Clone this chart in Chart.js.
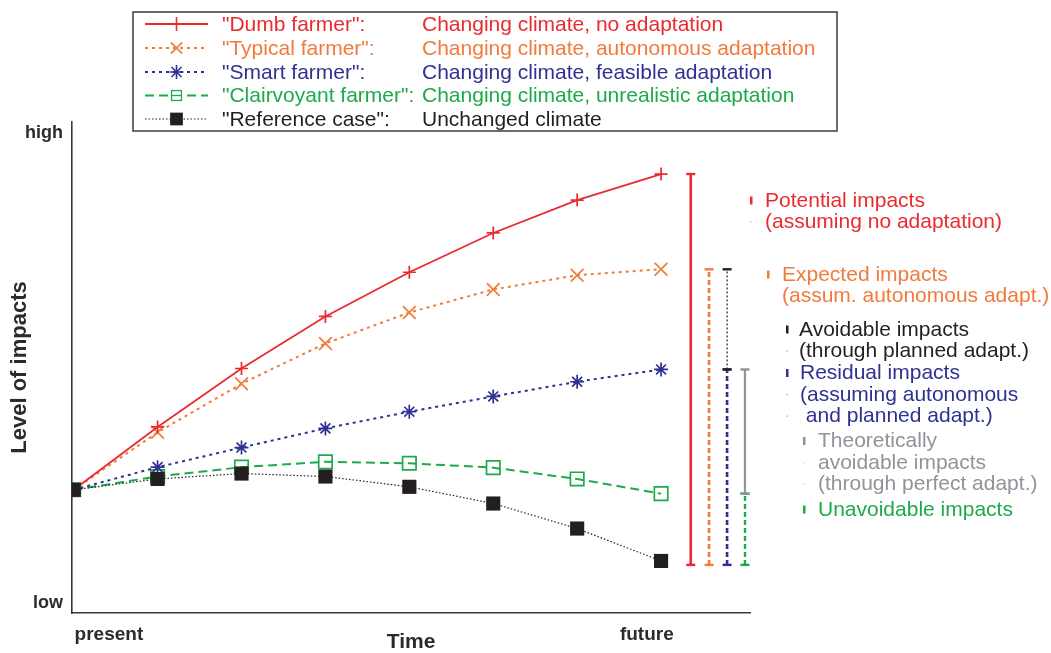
<!DOCTYPE html>
<html>
<head>
<meta charset="utf-8">
<script src="https://cdn.jsdelivr.net/npm/chart.js@4.4.1/dist/chart.umd.min.js"></script>
<style>
  html, body { margin: 0; padding: 0; background: #ffffff; }
  #wrap { position: relative; width: 1051px; height: 653px; }
</style>
</head>
<body>
<div id="wrap"><canvas id="c" width="1051" height="653"></canvas></div>
<script>
// ---------------- DATA ----------------
const timeSteps = [0, 1, 2, 3, 4, 5, 6, 7];
const dumbFarmer        = [25.1, 37.9, 49.8, 60.4, 69.4, 77.4, 84.1, 89.4];
const typicalFarmer     = [25.1, 36.8, 46.7, 54.9, 61.2, 65.9, 68.8, 70.0];
const smartFarmer       = [25.1, 29.7, 33.7, 37.6, 41.0, 44.1, 47.1, 49.6];
const clairvoyantFarmer = [25.1, 27.8, 29.7, 30.8, 30.5, 29.6, 27.3, 24.3];
const referenceCase     = [25.1, 27.3, 28.4, 27.8, 25.7, 22.3, 17.2, 10.6];

const seriesNames = ['"Dumb farmer":', '"Typical farmer":', '"Smart farmer":', '"Clairvoyant farmer":', '"Reference case":'];
const seriesDescriptions = ['Changing climate, no adaptation', 'Changing climate, autonomous adaptation',
  'Changing climate, feasible adaptation', 'Changing climate, unrealistic adaptation', 'Unchanged climate'];

// impact ranges shown as brackets at the right (low value, high value)
const bracketBase = 9.8;
const potentialRange   = [bracketBase, 89.4];
const expectedRange    = [bracketBase, 70.0];
const avoidableRange   = [49.6, 70.0];
const residualRange    = [bracketBase, 49.6];
const theoreticalRange = [24.3, 49.6];
const unavoidableRange = [bracketBase, 24.3];
const bracketX = [7.354, 7.572, 7.787, 7.787, 8.0, 8.0];

const yTickValues = [2.0, 97.8];
const yTickLabels = ['low', 'high'];
const xTickValues = [0.42, 6.83];
const xTickLabels = ['present', 'future'];

const annotationTexts = [
  ['Potential impacts', '(assuming no adaptation)'],
  ['Expected impacts', '(assum. autonomous adapt.)'],
  ['Avoidable impacts', '(through planned adapt.)'],
  ['Residual impacts', '(assuming autonomous', ' and planned adapt.)'],
  ['Theoretically', 'avoidable impacts', '(through perfect adapt.)'],
  ['Unavoidable impacts']
];

// ---------------- STYLE ----------------
const RED = '#ea2a2f', ORANGE = '#f27a3c', BLUE = '#2f3192', GREEN = '#1daa4a', BLACK = '#231f20', GRAY = '#8f949a';
const FONT = "'Liberation Sans', Arial, Helvetica, sans-serif";

const seriesStyles = [
  { color: RED,    dash: [],      width: 1.8, pointStyle: 'cross',    radius: 6.5, fill: false },
  { color: ORANGE, dash: [3, 4],  width: 2,   pointStyle: 'crossRot', radius: 9,   fill: false },
  { color: BLUE,   dash: [3, 4],  width: 2,   pointStyle: 'star',     radius: 7,   fill: false },
  { color: GREEN,  dash: [9, 5],  width: 2,   pointStyle: 'rect',     radius: 9.5, fill: false },
  { color: BLACK,  dash: [1.5, 2],width: 1.2, pointStyle: 'rect',     radius: 10,  fill: true }
];
const seriesValues = [dumbFarmer, typicalFarmer, smartFarmer, clairvoyantFarmer, referenceCase];

const datasets = seriesValues.map((vals, i) => {
  const s = seriesStyles[i];
  return {
    label: seriesNames[i],
    data: timeSteps.map((t, k) => ({ x: t, y: vals[k] })),
    borderColor: s.color,
    borderWidth: s.width,
    borderDash: s.dash,
    pointStyle: s.pointStyle,
    pointRadius: s.radius,
    pointHoverRadius: s.radius,
    pointBorderColor: s.color,
    pointBackgroundColor: s.fill ? s.color : 'rgba(0,0,0,0)',
    pointBorderWidth: s.fill ? 0 : 1.7,
    tension: 0,
    order: i === 4 ? 0 : i + 1
  };
});

const bracketDefs = [
  { range: potentialRange,   color: RED,    dash: [],     width: 2.6 },
  { range: expectedRange,    color: ORANGE, dash: [5, 3], width: 2.6 },
  { range: avoidableRange,   color: BLACK,  dash: [2, 2], width: 1.2 },
  { range: residualRange,    color: BLUE,   dash: [5, 3], width: 2.6 },
  { range: theoreticalRange, color: GRAY,   dash: [],     width: 2.2 },
  { range: unavoidableRange, color: GREEN,  dash: [5, 3], width: 2.4 }
];
bracketDefs.forEach((b, i) => {
  datasets.push({
    label: 'bracket' + i,
    data: [{ x: bracketX[i], y: b.range[0] }, { x: bracketX[i], y: b.range[1] }],
    borderColor: b.color,
    borderWidth: b.width,
    borderDash: b.dash,
    pointStyle: 'line',
    pointRadius: 4.5,
    pointHoverRadius: 4.5,
    pointBorderColor: b.color,
    pointBorderWidth: 2.4,
    order: 10
  });
});

// ---------------- PLUGINS ----------------
function drawMarker(ctx, style, x, y, r) {
  ctx.save();
  ctx.strokeStyle = style.color;
  ctx.fillStyle = style.color;
  ctx.lineWidth = 1.6;
  ctx.setLineDash([]);
  ctx.beginPath();
  if (style.pointStyle === 'cross') {
    ctx.moveTo(x - r, y); ctx.lineTo(x + r, y); ctx.moveTo(x, y - r); ctx.lineTo(x, y + r); ctx.stroke();
  } else if (style.pointStyle === 'crossRot') {
    const d = r * Math.SQRT1_2;
    ctx.moveTo(x - d, y - d); ctx.lineTo(x + d, y + d); ctx.moveTo(x - d, y + d); ctx.lineTo(x + d, y - d); ctx.stroke();
  } else if (style.pointStyle === 'star') {
    const d = r * Math.SQRT1_2;
    ctx.moveTo(x - r, y); ctx.lineTo(x + r, y); ctx.moveTo(x, y - r); ctx.lineTo(x, y + r);
    ctx.moveTo(x - d, y - d); ctx.lineTo(x + d, y + d); ctx.moveTo(x - d, y + d); ctx.lineTo(x + d, y - d); ctx.stroke();
  } else if (style.pointStyle === 'rect') {
    const d = r * Math.SQRT1_2;
    if (style.fill) { ctx.fillRect(x - d, y - d, 2 * d, 2 * d); }
    else { ctx.lineWidth = 1.3; ctx.strokeRect(x - d, y - d, 2 * d, 2 * d); ctx.beginPath(); ctx.moveTo(x - d, y); ctx.lineTo(x + d, y); ctx.stroke(); }
  }
  ctx.restore();
}

const legendBox = { left: 133, top: 12, right: 837, bottom: 131, rowY: [24, 48, 72, 95.5, 119], lineX0: 145, lineX1: 208, nameX: 222, descX: 422 };
const legendMarkerR = [7, 8, 7, 7, 9];

const legendPlugin = {
  id: 'customLegend',
  afterDraw(chart) {
    const ctx = chart.ctx;
    const L = legendBox;
    ctx.save();
    ctx.fillStyle = '#ffffff';
    ctx.fillRect(L.left, L.top, L.right - L.left, L.bottom - L.top);
    ctx.strokeStyle = '#3c3c3c';
    ctx.lineWidth = 1.5;
    ctx.strokeRect(L.left, L.top, L.right - L.left, L.bottom - L.top);
    seriesNames.forEach((name, i) => {
      const s = seriesStyles[i];
      const y = L.rowY[i];
      ctx.save();
      ctx.strokeStyle = s.color;
      ctx.lineWidth = s.width;
      ctx.setLineDash(s.dash);
      ctx.beginPath(); ctx.moveTo(L.lineX0, y); ctx.lineTo(L.lineX1, y); ctx.stroke();
      ctx.restore();
      const mx = (L.lineX0 + L.lineX1) / 2;
      if (s.pointStyle === 'rect' && !s.fill) {
        const d = legendMarkerR[i] * Math.SQRT1_2;
        ctx.fillStyle = '#fff';
        ctx.fillRect(mx - d, y - d, 2 * d, 2 * d);
      }
      drawMarker(ctx, s, mx, y, legendMarkerR[i]);
      ctx.fillStyle = s.color;
      ctx.font = '21px ' + FONT;
      ctx.textBaseline = 'middle';
      ctx.textAlign = 'left';
      ctx.fillText(name, L.nameX, y + 1);
      ctx.fillText(seriesDescriptions[i], L.descX, y + 1);
    });
    ctx.restore();
  }
};

const annotationLayout = [
  { color: RED,    x: 765, y: 200,   mx: 751 },
  { color: ORANGE, x: 782, y: 274,   mx: 768 },
  { color: BLACK,  x: 799, y: 329,   mx: 787 },
  { color: BLUE,   x: 800, y: 372.5, mx: 787 },
  { color: GRAY,   x: 818, y: 440.5, mx: 804 },
  { color: GREEN,  x: 818, y: 509,   mx: 804 }
];
const annotationLineGap = 21.5;

const annotationPlugin = {
  id: 'impactAnnotations',
  afterDraw(chart) {
    const ctx = chart.ctx;
    ctx.save();
    ctx.font = '21px ' + FONT;
    ctx.textBaseline = 'middle';
    ctx.textAlign = 'left';
    annotationTexts.forEach((lines, i) => {
      const a = annotationLayout[i];
      ctx.fillStyle = a.color;
      lines.forEach((t, k) => {
        const y = a.y + k * annotationLineGap;
        ctx.fillText(t, a.x, y + 1);
        if (k === 0) ctx.fillRect(a.mx - 1, y - 3.5, 2.5, 8);
        else { ctx.globalAlpha = 0.5; ctx.fillRect(a.mx - 0.5, y, 1.2, 1.2); ctx.globalAlpha = 1; }
      });
    });
    ctx.restore();
  }
};

// ---------------- CHART ----------------
new Chart(document.getElementById('c'), {
  type: 'line',
  data: { datasets },
  options: {
    responsive: false,
    animation: false,
    devicePixelRatio: 1,
    layout: { padding: { top: 122, right: 301, bottom: 0, left: 0 } },
    plugins: { legend: { display: false }, tooltip: { enabled: false } },
    events: [],
    scales: {
      x: {
        type: 'linear',
        min: -0.02,
        max: 8.06,
        grid: { display: false, drawTicks: false },
        border: { display: true, color: '#3a3a3a', width: 1.6 },
        afterBuildTicks: (axis) => { axis.ticks = xTickValues.map(v => ({ value: v })); },
        afterFit: (axis) => { axis.height = 40; },
        ticks: {
          callback: (v) => { const i = xTickValues.indexOf(v); return i >= 0 ? xTickLabels[i] : ''; },
          color: '#2b2b2b',
          font: { family: FONT, size: 19, weight: 'bold' },
          padding: 10,
          maxRotation: 0,
          autoSkip: false
        },
        title: {
          display: true, text: 'Time', color: '#2b2b2b',
          font: { family: FONT, size: 21, weight: 'bold', lineHeight: 1 },
          padding: { top: 0, bottom: 0 }
        }
      },
      y: {
        type: 'linear',
        min: 0,
        max: 100,
        grid: { display: false, drawTicks: false },
        border: { display: true, color: '#3a3a3a', width: 1.6 },
        afterBuildTicks: (axis) => { axis.ticks = yTickValues.map(v => ({ value: v })); },
        afterFit: (axis) => { axis.width = 72; },
        ticks: {
          callback: (v) => { const i = yTickValues.indexOf(v); return i >= 0 ? yTickLabels[i] : ''; },
          color: '#2b2b2b',
          font: { family: FONT, size: 18, weight: 'bold' },
          padding: 9,
          autoSkip: false
        },
        title: {
          display: true, text: 'Level of impacts', color: '#2b2b2b',
          font: { family: FONT, size: 22, weight: 'bold', lineHeight: 1 },
          padding: { top: 9, bottom: 0 }
        }
      }
    }
  },
  plugins: [legendPlugin, annotationPlugin]
});
</script>
</body>
</html>
